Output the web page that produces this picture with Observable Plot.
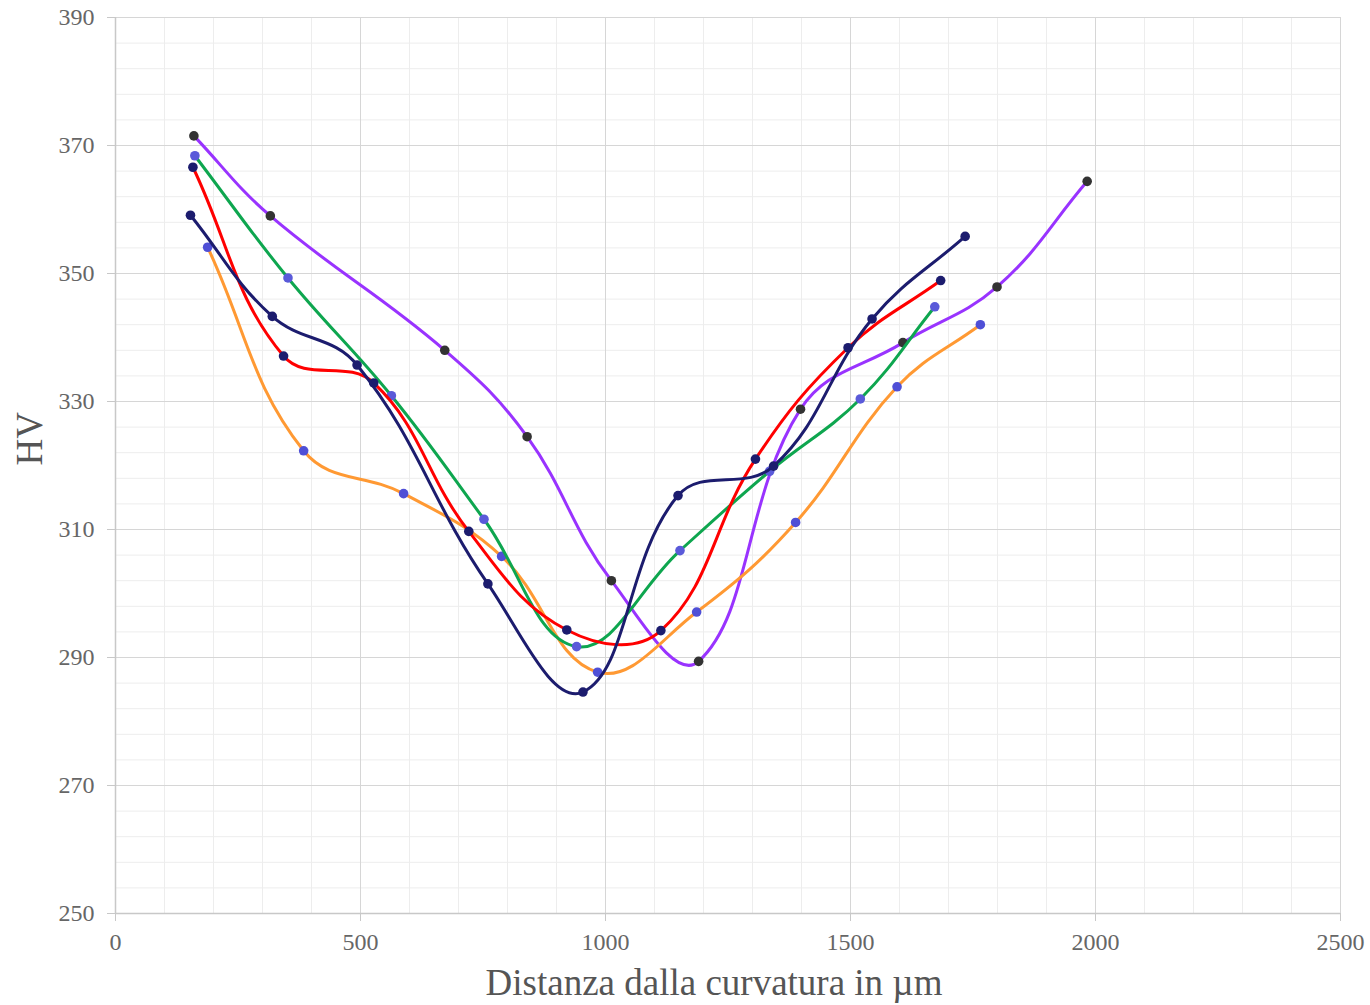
<!DOCTYPE html>
<html>
<head>
<meta charset="utf-8">
<script src="https://cdn.jsdelivr.net/npm/d3@7"></script>
<script src="https://cdn.jsdelivr.net/npm/@observablehq/plot@0.6"></script>
<style>
  html, body { margin: 0; padding: 0; background: #fff; }
  #chart { width: 1370px; height: 1005px; }
</style>
</head>
<body>
<div id="chart"></div>
<script>
// ---- Data ----
const purpleX = [160, 316, 672, 840, 1012, 1190, 1398, 1607, 1799, 1983];
const purpleY = [371.5, 359.0, 338.0, 324.5, 302.0, 289.4, 328.8, 339.2, 347.9, 364.4];

const redX = [158, 343, 527, 721, 921, 1113, 1306, 1495, 1684];
const redY = [366.6, 337.1, 332.9, 309.7, 294.3, 294.2, 321.0, 338.4, 348.9];

const navyX = [153, 320, 493, 760, 954, 1148, 1343, 1544, 1734];
const navyY = [359.1, 343.3, 335.7, 301.5, 284.6, 315.3, 319.9, 342.9, 355.8];

const greenX = [162, 352, 563, 752, 941, 1152, 1335, 1520, 1672];
const greenY = [368.4, 349.3, 330.9, 311.6, 291.7, 306.7, 319.1, 330.4, 344.8];

const orangeX = [188, 384, 588, 788, 984, 1186, 1388, 1595, 1765];
const orangeY = [354.1, 322.3, 315.6, 305.8, 287.7, 297.1, 311.1, 332.3, 342.0];

const xTicks = [0, 500, 1000, 1500, 2000, 2500];
const yTicks = [250, 270, 290, 310, 330, 350, 370, 390];
const xMinor = d3.range(0, 2501, 100);
const yMinor = d3.range(250, 391, 4);

const series = [
  {name: "purple", xs: purpleX, ys: purpleY, line: "#9933ff", dot: "#333333"},
  {name: "orange", xs: orangeX, ys: orangeY, line: "#ff9933", dot: "#4f4fd6"},
  {name: "green",  xs: greenX,  ys: greenY,  line: "#0ea64f", dot: "#5a5ad9"},
  {name: "red",    xs: redX,    ys: redY,    line: "#ff0000", dot: "#1c1c6e"},
  {name: "navy",   xs: navyX,   ys: navyY,   line: "#1c1c6e", dot: "#1c1c6e"}
];

// Chart.js-style bezier spline (tension 0.4) as a d3 curve factory
function splineCurve(context) {
  let pts;
  return {
    areaStart() {}, areaEnd() {},
    lineStart() { pts = []; },
    point(x, y) { pts.push({x: +x, y: +y}); },
    lineEnd() {
      const n = pts.length;
      if (!n) return;
      const t = 0.4;
      const cps = pts.map((cur, i) => {
        const prev = pts[i - 1] || cur, next = pts[i + 1] || cur;
        const d01 = Math.hypot(cur.x - prev.x, cur.y - prev.y);
        const d12 = Math.hypot(next.x - cur.x, next.y - cur.y);
        let s01 = d01 / (d01 + d12), s12 = d12 / (d01 + d12);
        if (isNaN(s01)) s01 = 0;
        if (isNaN(s12)) s12 = 0;
        const fa = t * s01, fb = t * s12;
        return {
          px: cur.x - fa * (next.x - prev.x), py: cur.y - fa * (next.y - prev.y),
          nx: cur.x + fb * (next.x - prev.x), ny: cur.y + fb * (next.y - prev.y)
        };
      });
      context.moveTo(pts[0].x, pts[0].y);
      for (let i = 1; i < n; i++) {
        context.bezierCurveTo(cps[i - 1].nx, cps[i - 1].ny, cps[i].px, cps[i].py, pts[i].x, pts[i].y);
      }
    }
  };
}

const seriesMarks = [];
for (const s of series) {
  const rows = s.xs.map((x, i) => ({x, y: s.ys[i]}));
  seriesMarks.push(Plot.line(rows, {x: "x", y: "y", stroke: s.line, strokeWidth: 3, curve: splineCurve}));
  seriesMarks.push(Plot.dot(rows, {x: "x", y: "y", r: 4.8, fill: s.dot, stroke: "none"}));
}

const font = "'Liberation Serif', 'Times New Roman', serif";

const chart = Plot.plot({
  width: 1370,
  height: 1005,
  marginLeft: 115,
  marginRight: 30,
  marginTop: 17,
  marginBottom: 92,
  style: {fontFamily: font, background: "#fff", overflow: "visible"},
  x: {domain: [0, 2500]},
  y: {domain: [250, 390]},
  marks: [
    Plot.gridX(xMinor, {stroke: "#ededed", strokeOpacity: 1, strokeWidth: 1}),
    Plot.gridY(yMinor, {stroke: "#ededed", strokeOpacity: 1, strokeWidth: 1}),
    Plot.gridX(xTicks, {stroke: "#d6d6d6", strokeOpacity: 1, strokeWidth: 1}),
    Plot.gridY(yTicks, {stroke: "#d6d6d6", strokeOpacity: 1, strokeWidth: 1}),
    Plot.ruleX([0], {stroke: "#c8c8c8", strokeWidth: 1.5}),
    Plot.ruleY([250], {stroke: "#c8c8c8", strokeWidth: 1.5}),
    Plot.axisX({ticks: xTicks, tickSize: 8, tickPadding: 11, fontSize: 24, color: "#666", stroke: "#c8c8c8", strokeOpacity: 1, label: null, tickFormat: d => String(d)}),
    Plot.axisY({ticks: yTicks, tickSize: 8, tickPadding: 13, fontSize: 24, color: "#666", stroke: "#c8c8c8", strokeOpacity: 1, label: null, tickFormat: d => String(d)}),
    ...seriesMarks,
    Plot.text(["Distanza dalla curvatura in µm"], {frameAnchor: "bottom", dx: -14, dy: 81, fontSize: 37, fill: "#555", fontFamily: font}),
    Plot.text(["HV"], {frameAnchor: "left", dx: -85, rotate: -90, fontSize: 37, fill: "#555", fontFamily: font})
  ]
});

document.getElementById("chart").appendChild(chart);
</script>
</body>
</html>
